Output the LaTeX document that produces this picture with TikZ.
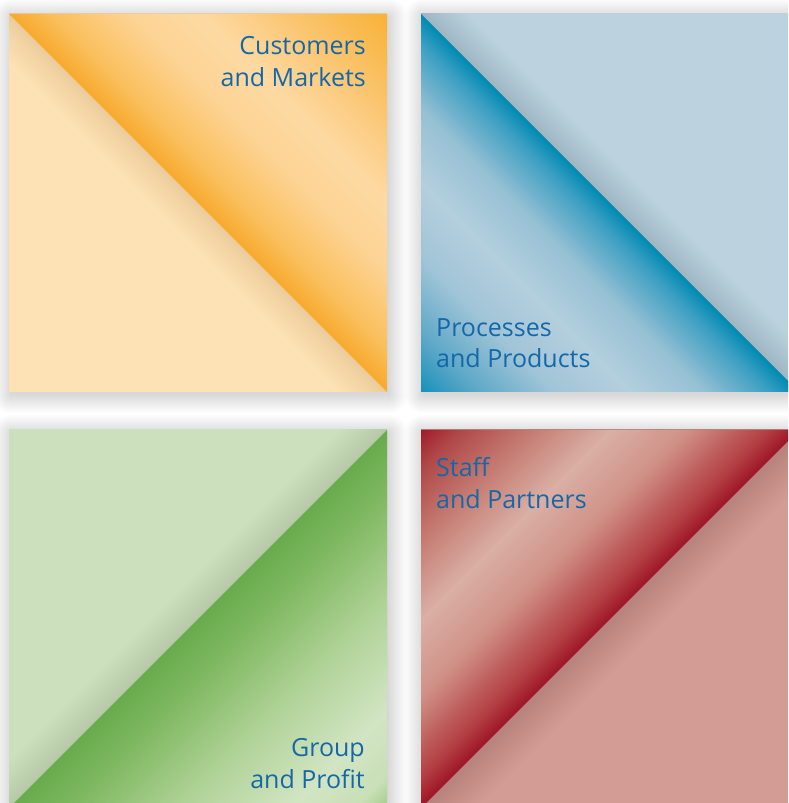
\documentclass[tikz,border=0pt]{standalone}
\usepackage{fontspec}
\setmainfont{Open Sans}

\definecolor{txtblue}{RGB}{20,104,170}
% orange
\definecolor{orA}{RGB}{247,170,45}
\definecolor{orB}{RGB}{250,192,95}
\definecolor{orC}{RGB}{253,212,150}
\definecolor{orD}{RGB}{253,217,162}
\definecolor{orE}{RGB}{251,200,120}
\definecolor{orF}{RGB}{248,178,55}
\definecolor{beA}{RGB}{236,204,156}
\definecolor{beB}{RGB}{253,226,181}
% blue
\definecolor{blA}{RGB}{0,138,178}
\definecolor{blB}{RGB}{60,160,195}
\definecolor{blC}{RGB}{150,192,212}
\definecolor{blD}{RGB}{180,207,221}
\definecolor{blE}{RGB}{160,196,215}
\definecolor{blF}{RGB}{95,168,200}
\definecolor{blG}{RGB}{25,146,186}
\definecolor{lbA}{RGB}{158,181,195}
\definecolor{lbB}{RGB}{188,211,223}
% green
\definecolor{grA}{RGB}{104,172,76}
\definecolor{grB}{RGB}{125,183,95}
\definecolor{grC}{RGB}{175,210,150}
\definecolor{grD}{RGB}{210,229,195}
\definecolor{grE}{RGB}{200,223,183}
\definecolor{grF}{RGB}{165,205,140}
\definecolor{lgA}{RGB}{182,201,166}
\definecolor{lgB}{RGB}{205,224,190}
% red
\definecolor{rdA}{RGB}{158,20,38}
\definecolor{rdB}{RGB}{178,62,66}
\definecolor{rdC}{RGB}{208,146,136}
\definecolor{rdD}{RGB}{218,175,165}
\definecolor{rdE}{RGB}{198,126,116}
\definecolor{rdF}{RGB}{176,72,72}
\definecolor{rdG}{RGB}{160,30,45}
\definecolor{pkA}{RGB}{184,130,124}
\definecolor{pkB}{RGB}{211,157,150}

% p = 50 + 35.36 d  (d = distance from diagonal, 0..1 to the corner)
\pgfdeclarehorizontalshading{orUp}{100bp}{color(0bp)=(orA); color(50bp)=(orA); color(54.24bp)=(orB); color(61.5bp)=(orC); color(68bp)=(orD); color(75bp)=(orE); color(85.36bp)=(orF); color(100bp)=(orF)}
\pgfdeclarehorizontalshading{beLo}{100bp}{color(0bp)=(beA); color(50bp)=(beA); color(54.6bp)=(beB); color(100bp)=(beB)}
\pgfdeclarehorizontalshading{blLo}{100bp}{color(0bp)=(blA); color(50bp)=(blA); color(52.83bp)=(blB); color(58.84bp)=(blC); color(65.91bp)=(blD); color(72.98bp)=(blE); color(80.06bp)=(blF); color(85.36bp)=(blG); color(100bp)=(blG)}
\pgfdeclarehorizontalshading{lbUp}{100bp}{color(0bp)=(lbA); color(50bp)=(lbA); color(54.6bp)=(lbB); color(100bp)=(lbB)}
\pgfdeclarehorizontalshading{grLo}{100bp}{color(0bp)=(grA); color(50bp)=(grA); color(55.30bp)=(grB); color(65.91bp)=(grC); color(76.52bp)=(grD); color(82.53bp)=(grE); color(85.36bp)=(grF); color(100bp)=(grF)}
\pgfdeclarehorizontalshading{lgUp}{100bp}{color(0bp)=(lgA); color(50bp)=(lgA); color(54.6bp)=(lgB); color(100bp)=(lgB)}
\pgfdeclarehorizontalshading{rdUp}{100bp}{color(0bp)=(rdA); color(50bp)=(rdA); color(52.83bp)=(rdB); color(60.61bp)=(rdC); color(67.68bp)=(rdD); color(74.75bp)=(rdE); color(81.82bp)=(rdF); color(85.36bp)=(rdG); color(100bp)=(rdG)}
\pgfdeclarehorizontalshading{pkLo}{100bp}{color(0bp)=(pkA); color(50bp)=(pkA); color(55.30bp)=(pkB); color(100bp)=(pkB)}

\tikzset{
  lbl/.style={font=\fontsize{25}{30}\selectfont, text=txtblue, inner sep=0pt},
  shadowlayer/.style={fill=black, fill opacity=0.009},
}
% soft shadow: #1,#2 lower-left corner, #3,#4 upper-right corner
\newcommand\softshadowbox[4]{%
  \foreach \k in {0,...,18}{%
    \fill[shadowlayer, rounded corners=\k pt]
      ({#1-\k+2},{#2-\k-3}) rectangle ({#3+\k+2},{#4+\k-3});
  }%
}

\begin{document}
\begin{tikzpicture}[x=1pt,y=1pt]
\useasboundingbox (0,0) rectangle (788,803);
\clip (0,0) rectangle (788,803);
\fill[white] (0,0) rectangle (788,803);

% shadows
\softshadowbox{9}{411}{387}{789}
\softshadowbox{421}{411}{799}{789}
\softshadowbox{9}{-5}{387}{373}
\softshadowbox{421}{-5}{799}{373}

% ---- top left: orange
\shade[shading=beLo, shading angle=225] (9,411) rectangle (387,789);
\begin{scope}
  \clip (9,789) -- (387,789) -- (387,411) -- cycle;
  \shade[shading=orUp, shading angle=45] (9,411) rectangle (387,789);
\end{scope}

% ---- top right: blue
\shade[shading=lbUp, shading angle=45] (421,411) rectangle (799,789);
\begin{scope}
  \clip (421,789) -- (421,411) -- (799,411) -- cycle;
  \shade[shading=blLo, shading angle=225] (421,411) rectangle (799,789);
\end{scope}

% ---- bottom left: green
\shade[shading=lgUp, shading angle=135] (9,-5) rectangle (387,373);
\begin{scope}
  \clip (9,-5) -- (387,-5) -- (387,373) -- cycle;
  \shade[shading=grLo, shading angle=-45] (9,-5) rectangle (387,373);
\end{scope}

% ---- bottom right: red
\shade[shading=pkLo, shading angle=-45] (421,-5) rectangle (799,373);
\begin{scope}
  \clip (421,-5) -- (421,373) -- (799,373) -- cycle;
  \shade[shading=rdUp, shading angle=135] (421,-5) rectangle (799,373);
\end{scope}

% labels
\node[lbl, anchor=base east] (cm1) at (366,748) {Customers};
\node[lbl, anchor=base east] (cm2) at (366,716) {and Markets};
\node[lbl, anchor=base west] (pp1) at (436,466) {Processes};
\node[lbl, anchor=base west] (pp2) at (436,435) {and Products};
\node[lbl, anchor=base east] (gp1) at (365,46) {Group};
\node[lbl, anchor=base east] (gp2) at (365,14) {and Profit};
\node[lbl, anchor=base west] (sp1) at (436,326) {Staff};
\node[lbl, anchor=base west] (sp2) at (436,294) {and Partners};
\end{tikzpicture}
\end{document}
